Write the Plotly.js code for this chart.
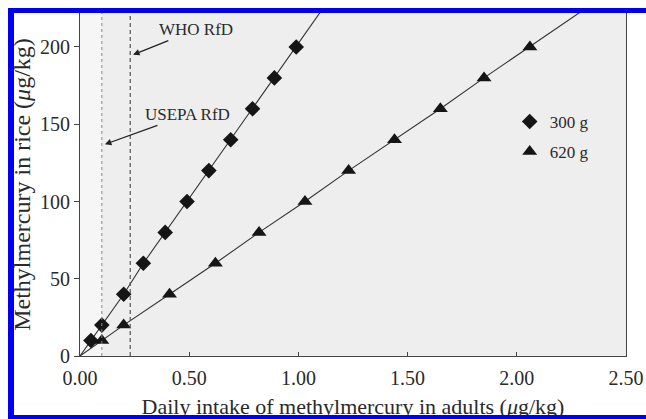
<!DOCTYPE html>
<html>
<head>
<meta charset="utf-8">
<script src="https://cdn.plot.ly/plotly-3.0.1.min.js"></script>
<style>
html,body{margin:0;padding:0;background:#fff;overflow:hidden;}
#wrap{position:relative;width:646px;height:419px;overflow:hidden;}
#chart{position:absolute;left:0;top:0;width:646px;height:419px;}
#frame{position:absolute;left:8px;top:8px;width:700px;height:402px;border-left:6px solid #0000f0;border-top:5px solid #0000f0;border-bottom:4px solid #0000f0;pointer-events:none;}
</style>
</head>
<body>
<div id="wrap"><div id="chart"></div><div id="frame"></div></div>
<script>
// Methylmercury concentration in rice (µg/kg)
const conc300 = [10, 20, 40, 60, 80, 100, 120, 140, 160, 180, 200];
const intake300 = [0.05, 0.10, 0.20, 0.29, 0.39, 0.49, 0.59, 0.69, 0.79, 0.89, 0.99];
const conc620 = [10, 20, 40, 60, 80, 100, 120, 140, 160, 180, 200];
const intake620 = [0.10, 0.20, 0.41, 0.62, 0.82, 1.03, 1.23, 1.44, 1.65, 1.85, 2.06];
const seriesNames = ["300 g", "620 g"];
const rfdNames = ["USEPA RfD", "WHO RfD"];
const rfdValues = [0.1, 0.23];
const xTicks = [0, 0.5, 1.0, 1.5, 2.0, 2.5];
const yTicks = [0, 50, 100, 150, 200];

const serif = "Liberation Serif, Times New Roman, serif";
const ink = "#151515";
const txt = "#2a2a2a";

function fitLine(xs, ys, yEnd) {
  const slope = xs[xs.length - 1] / ys[ys.length - 1];
  return {x: [0].concat(xs, [slope * yEnd]), y: [0].concat(ys, [yEnd])};
}
const l300 = fitLine(intake300, conc300, 260);
const l620 = fitLine(intake620, conc620, 260);

const traces = [
  {x: l300.x, y: l300.y, mode: "lines", line: {color: "#333", width: 1.1}, showlegend: false, hoverinfo: "skip"},
  {x: l620.x, y: l620.y, mode: "lines", line: {color: "#333", width: 1.1}, showlegend: false, hoverinfo: "skip"},
  {x: intake300, y: conc300, mode: "markers", name: seriesNames[0], legendgroup: "a",
   marker: {symbol: "diamond", size: 12, color: ink}},
  {x: intake620, y: conc620, mode: "markers", name: seriesNames[1], legendgroup: "b",
   marker: {symbol: "triangle-up", size: 13, color: ink}}
];

const layout = {
  width: 646, height: 419,
  margin: {l: 80, r: 20, t: 13, b: 63},
  paper_bgcolor: "#ffffff",
  plot_bgcolor: "#eeeeee",
  font: {family: serif, size: 16, color: txt},
  showlegend: true,
  legend: {x: 0.787, y: 0.735, xanchor: "left", yanchor: "top", bgcolor: "rgba(0,0,0,0)",
           font: {family: serif, size: 17, color: txt}, tracegroupgap: 5, itemwidth: 30},
  xaxis: {
    range: [0, 2.5], tickvals: xTicks, tickformat: ".2f",
    showgrid: false, zeroline: false, showline: true, linecolor: "#444", linewidth: 1, mirror: true,
    ticks: "inside", ticklen: 4, tickcolor: "#444", ticklabelstandoff: 4,
    tickfont: {family: serif, size: 20, color: txt},
    title: {text: "Daily intake of methylmercury in adults (<i>μ</i>g/kg)", font: {family: serif, size: 22, color: txt}, standoff: 12}
  },
  yaxis: {
    range: [0, 222], tickvals: yTicks,
    showgrid: false, zeroline: false, showline: true, linecolor: "#444", linewidth: 1, mirror: true,
    ticks: "outside", ticklen: 5, tickcolor: "#444",
    tickfont: {family: serif, size: 20, color: txt},
    title: {text: "Methylmercury in rice (<i>μ</i>g/kg)", font: {family: serif, size: 24, color: txt}, standoff: 2}
  },
  shapes: [
    {type: "rect", xref: "x", yref: "paper", x0: 0, x1: rfdValues[0], y0: 0, y1: 1, fillcolor: "#f6f6f6", line: {width: 0}, layer: "below"},
    {type: "line", xref: "x", yref: "paper", x0: rfdValues[0], x1: rfdValues[0], y0: 0, y1: 1, line: {color: "#888", width: 1, dash: "dot"}},
    {type: "line", xref: "x", yref: "paper", x0: rfdValues[1], x1: rfdValues[1], y0: 0, y1: 1, line: {color: "#555", width: 1.2, dash: "4px,3px"}}
  ],
  annotations: [
    {x: 0.243, y: 195, xref: "x", yref: "y", text: rfdNames[1], showarrow: true, ax: 63, ay: -25,
     arrowhead: 2, arrowsize: 1, arrowwidth: 1.3, arrowcolor: "#222", font: {family: serif, size: 17, color: txt}},
    {x: 0.114, y: 137, xref: "x", yref: "y", text: rfdNames[0], showarrow: true, ax: 83, ay: -30,
     arrowhead: 2, arrowsize: 1, arrowwidth: 1.3, arrowcolor: "#222", font: {family: serif, size: 17, color: txt}}
  ]
};

Plotly.newPlot("chart", traces, layout, {displayModeBar: false, staticPlot: true});
</script>
</body>
</html>
